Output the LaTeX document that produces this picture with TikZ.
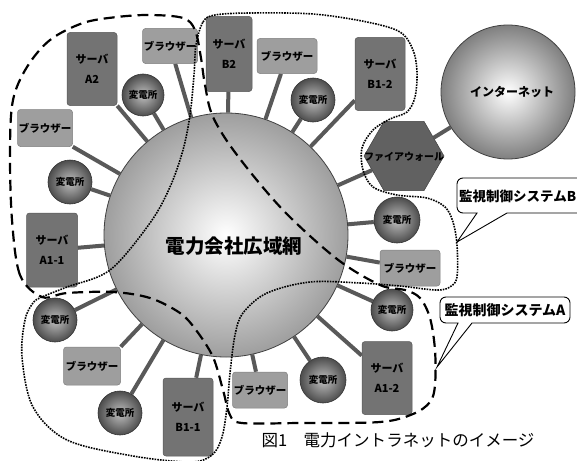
\documentclass[tikz,border=0pt]{standalone}
\usepackage{fontspec}
\newfontfamily\jp{Noto Sans CJK JP}
\usetikzlibrary{shapes.geometric,backgrounds}
\begin{document}
\begin{tikzpicture}[x=1pt,y=1pt,
  netcircle/.style={circle, draw=black!75, line width=0.8pt, shading=radial, inner color=white, outer color=black!38, minimum size=244pt, inner sep=0pt},
  subst/.style={circle, draw=black!80, line width=0.6pt, shading=radial, inner color=black!25, outer color=black!70, minimum size=44pt, inner sep=0pt, font=\jp\bfseries\fontsize{9.5}{10}\selectfont},
  srvbox/.style={rectangle, rounded corners=3pt, fill=black!55, draw=black!65, line width=0.5pt, minimum width=50pt, minimum height=73pt, inner sep=0pt, align=center, font=\jp\bfseries\fontsize{11}{20}\selectfont},
  brwbox/.style={rectangle, rounded corners=3pt, fill=black!38, draw=black!50, line width=0.5pt, minimum width=56pt, minimum height=36pt, inner sep=0pt, font=\jp\bfseries\fontsize{10.5}{12}\selectfont},
  linkline/.style={draw=black!65, line width=4pt},
  sysAline/.style={draw=black, line width=2.2pt, dash pattern=on 11pt off 6pt},
  sysBline/.style={draw=black, line width=1.6pt, dash pattern=on 1.6pt off 1.1pt},
  calloutline/.style={draw=black, line width=0.9pt, fill=white}
]
\useasboundingbox (0,0) rectangle (577,-460);
\clip (0,0) rectangle (577,-460);

% central network and internet
\node[netcircle] (net) at (226,-235) {};
\node[circle, draw=black!75, line width=0.8pt, shading=radial, inner color=white, outer color=black!50, minimum size=134pt, inner sep=0pt] (inet) at (508,-92) {};
\node[font=\jp\bfseries\fontsize{12}{14}\selectfont] (inetlabel) at (512,-92) {インターネット};
\node[regular polygon, regular polygon sides=6, minimum size=80pt, inner sep=0pt, fill=black!62, draw=black!75, line width=0.5pt] (fw) at (404,-156) {};
\node[font=\jp\bfseries\fontsize{10}{12}\selectfont] (fwlabel) at (404,-157) {ファイアウォール};

% servers
\node[srvbox] (sA2) at (92,-69) {サーバ\\A2};
\node[srvbox, minimum width=46pt, minimum height=75pt] (sB2) at (229,-54) {サーバ\\B2};
\node[srvbox] (sB12) at (380,-74) {サーバ\\B1-2};
\node[srvbox, minimum width=51pt, minimum height=74pt] (sA11) at (52,-250) {サーバ\\A1-1};
\node[srvbox, minimum height=78pt] (sB11) at (188,-417) {サーバ\\B1-1};
\node[srvbox] (sA12) at (387,-378) {サーバ\\A1-2};

% browsers
\node[brwbox, minimum width=55pt, minimum height=35pt] (bTL) at (170,-46) {ブラウザー};
\node[brwbox, minimum width=60pt, minimum height=35pt] (bT) at (287,-56) {ブラウザー};
\node[brwbox, minimum width=55pt, minimum height=37pt] (bL) at (45,-128) {ブラウザー};
\node[brwbox, minimum width=60pt] (bR) at (410,-268) {ブラウザー};
\node[brwbox, minimum width=57pt, minimum height=38pt] (bBL) at (92,-366) {ブラウザー};
\node[brwbox, minimum width=55pt] (bB) at (260,-390) {ブラウザー};

% substations
\node[subst, minimum size=42pt] (hA) at (143,-95) {変電所};
\node[subst] (hT) at (313,-100) {変電所};
\node[subst] (hL) at (70,-182) {変電所};
\node[subst, minimum size=46pt] (hR) at (397,-220) {変電所};
\node[subst, minimum size=42pt] (hR2) at (392,-310) {変電所};
\node[subst, minimum size=46pt] (hB) at (323,-380) {変電所};
\node[subst] (hBL) at (120,-413) {変電所};
\node[subst] (hLL) at (55,-320) {変電所};

\node[font=\jp\bfseries\fontsize{19.5}{22}\selectfont] (netlabel) at (234,-246) {電力会社広域網};

% connectors (behind)
\begin{scope}[on background layer]
\fill[white] (0,0) rectangle (577,-460);
\draw[linkline] (sA2.south east) -- (net);
\draw[linkline] (hA) -- (net);
\draw[linkline] (bTL) -- (net);
\draw[linkline] (bL.south east) -- (net);
\draw[linkline] (hL) -- (net);
\draw[linkline] (sA11) -- (net);
\draw[linkline] (sB2) -- (net);
\draw[linkline] (bT) -- (net);
\draw[linkline] (hT) -- (net);
\draw[linkline] (sB12) -- (net);
\draw[linkline] (fw) -- (net);
\draw[linkline] (fw) -- (inet);
\draw[linkline] (hR) -- (net);
\draw[linkline] (bR) -- (net);
\draw[linkline] (hR2) -- (net);
\draw[linkline] (sA12) -- (net);
\draw[linkline] (hB) -- (net);
\draw[linkline] (bB) -- (net);
\draw[linkline] (sB11) -- (net);
\draw[linkline] (hBL) -- (net);
\draw[linkline] (bBL.north east) -- (net);
\draw[linkline] (hLL) -- (net);
\end{scope}

% system A region (dashed)
\draw[sysAline] plot[smooth cycle, tension=0.55] coordinates {
 (42,-297) (20,-275) (12,-220) (10,-150) (13,-100) (27,-67) (50,-40) (83,-23) (117,-17) (150,-15) (183,-18) (195,-30) (201,-58) (205,-85) (213,-117) (237,-155) (283,-210) (337,-259) (380,-285) (405,-290) (420,-298) (430,-318) (435,-350) (435,-385) (430,-402) (413,-414) (380,-422) (300,-423) (242,-423) (230,-415) (223,-390) (213,-357) (196,-330) (180,-313) (150,-298) (113,-292) (67,-293)};

% system B region (dotted)
\draw[sysBline] plot[smooth cycle, tension=0.55] coordinates {
 (196,-45) (203,-22) (215,-15) (250,-13) (313,-14) (367,-22) (400,-32) (413,-50) (417,-72) (415,-97) (407,-112) (390,-119) (373,-130) (362,-148) (363,-170) (373,-187) (397,-195) (427,-198) (445,-207) (453,-222) (457,-245) (457,-277) (450,-287) (436,-290) (400,-286) (360,-283) (310,-282) (267,-293) (243,-313) (235,-335) (230,-373) (227,-407) (222,-437) (212,-455) (190,-462) (133,-456) (67,-440) (33,-407) (22,-357) (25,-320) (33,-303) (42,-297) (67,-287) (110,-270) (150,-223) (170,-187) (183,-150) (190,-115) (194,-75)};

% callouts
\draw[calloutline] (463,-178) -- (600,-178) -- (600,-213) -- (507,-213) -- (457,-242) -- (477,-213) -- (463,-213) arc[start angle=270,end angle=180,radius=6] -- (457,-184) arc[start angle=180,end angle=90,radius=6] -- cycle;
\node[anchor=west, inner sep=0pt, font=\jp\bfseries\fontsize{13.5}{15}\selectfont] (calB) at (459,-196) {監視制御システムB};

\draw[calloutline] (446,-297) -- (564,-297) arc[start angle=90,end angle=0,radius=6] -- (570,-317) arc[start angle=0,end angle=-90,radius=6] -- (472,-323) -- (437,-367) -- (458,-323) -- (446,-323) arc[start angle=270,end angle=180,radius=6] -- (440,-303) arc[start angle=180,end angle=90,radius=6] -- cycle;
\node[inner sep=0pt, font=\jp\bfseries\fontsize{14}{15}\selectfont] (calA) at (505,-310) {監視制御システムA};

% caption
\node[font=\jp\fontsize{16.5}{18}\selectfont] (caption) at (398,-440) {図1　電力イントラネットのイメージ};
\end{tikzpicture}
\end{document}
